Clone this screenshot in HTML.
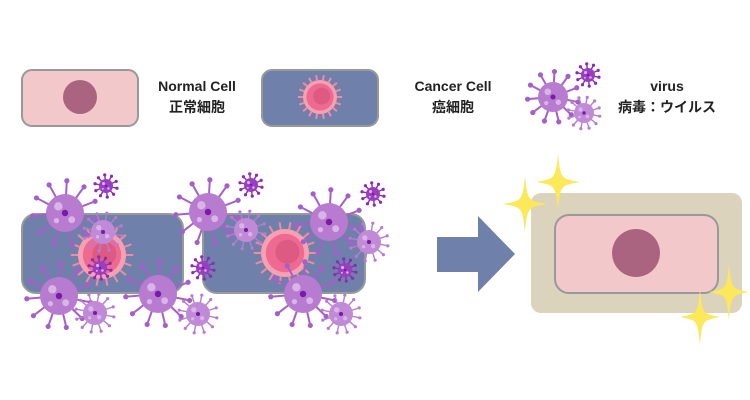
<!DOCTYPE html>
<html><head><meta charset="utf-8"><style>
body{margin:0;background:#fff;width:750px;height:400px;overflow:hidden}
svg{display:block}
text{font-family:"Liberation Sans","Noto Sans CJK JP",sans-serif;font-weight:bold;font-size:14px;fill:#222}
</style></head><body>
<svg id="s" width="750" height="400" viewBox="0 0 750 400" xmlns="http://www.w3.org/2000/svg">
<defs>
<path id="sp" d="M0,-1 C0.12,-0.12 0.12,-0.12 1,0 C0.12,0.12 0.12,0.12 0,1 C-0.12,0.12 -0.12,0.12 -1,0 C-0.12,-0.12 -0.12,-0.12 0,-1Z" fill="#fbe95a"/>
</defs>
<rect x="22" y="70" width="116" height="56" rx="10" fill="#f3c8ca" stroke="#999" stroke-width="2"/>
<circle cx="80" cy="97" r="17" fill="#aa6480"/>
<text x="197" y="91" text-anchor="middle">Normal Cell</text>
<text x="197" y="112" text-anchor="middle">正常細胞</text>
<rect x="262" y="70" width="116" height="56" rx="10" fill="#6f80aa" stroke="#999" stroke-width="2"/>
<g id="cancerLegend"></g>
<text x="453" y="91" text-anchor="middle">Cancer Cell</text>
<text x="453" y="112" text-anchor="middle">癌細胞</text>
<text x="667" y="91" text-anchor="middle">virus</text>
<text x="667" y="112" text-anchor="middle">病毒：ウイルス</text>
<rect x="22" y="214" width="161" height="79" rx="14" fill="#6f80aa" stroke="#999" stroke-width="2"/>
<rect x="203" y="214" width="162" height="79" rx="14" fill="#6f80aa" stroke="#999" stroke-width="2"/>
<g id="g1"></g>
<polygon points="437,237 478,237 478,216 515,254 478,292 478,272 437,272" fill="#6f80aa"/>
<rect x="531" y="193" width="211" height="120" rx="10" fill="#dbd3bb"/>
<rect x="555" y="215" width="163" height="78" rx="14" fill="#f3c8ca" stroke="#999" stroke-width="2"/>
<circle cx="636" cy="253" r="24" fill="#aa6480"/>
<use href="#sp" transform="translate(558,182) scale(22,28)"/>
<use href="#sp" transform="translate(525,204) scale(22,28)"/>
<use href="#sp" transform="translate(729,292) scale(20,28)"/>
<use href="#sp" transform="translate(700,317) scale(20,28)"/>
</svg>
<script>
const NS="http://www.w3.org/2000/svg";
function el(p,t,a){const e=document.createElementNS(NS,t);for(const k in a)e.setAttribute(k,a[k]);p.appendChild(e);return e;}
function cancer(p,x,y,r){
  const n=18;
  for(let i=0;i<n;i++){const a=i/n*2*Math.PI;
    el(p,'line',{x1:x+Math.cos(a)*r,y1:y+Math.sin(a)*r,x2:x+Math.cos(a)*(r*1.3),y2:y+Math.sin(a)*(r*1.3),stroke:'#f28aa4','stroke-width':2});}
  el(p,'circle',{cx:x,cy:y,r:r,fill:'#f7a0b4'});
  el(p,'circle',{cx:x,cy:y,r:r*0.8,fill:'#ef6a90'});
  el(p,'circle',{cx:x+r*0.1,cy:y-r*0.05,r:r*0.5,fill:'#dd5a82'});
}
function virus(p,x,y,r,type){
  const body={big:'#b77cd0',mid:'#c08ad6',dark:'#9a3ec0'}[type];
  const spk={big:'#a460c8',mid:'#b77cd0',dark:'#8a2cb4'}[type];
  const n=type==='big'?11:(type==='mid'?12:10), L=type==='big'?1.7:1.6;
  for(let i=0;i<n;i++){const a=i/n*2*Math.PI+0.2;
    const ex=x+Math.cos(a)*r*L, ey=y+Math.sin(a)*r*L;
    el(p,'line',{x1:x,y1:y,x2:ex,y2:ey,stroke:spk,'stroke-width':type==='big'?2:1.4});
    el(p,'circle',{cx:ex,cy:ey,r:type==='big'?2.6:1.6,fill:spk});}
  el(p,'circle',{cx:x,cy:y,r:r,fill:body});
  el(p,'circle',{cx:x-r*0.35,cy:y-r*0.35,r:r*0.22,fill:'#d9b4e6'});
  el(p,'circle',{cx:x+r*0.35,cy:y+r*0.35,r:r*0.18,fill:'#d9b4e6'});
  el(p,'circle',{cx:x-r*0.45,cy:y+r*0.4,r:r*0.14,fill:'#d9b4e6'});
  el(p,'circle',{cx:x,cy:y,r:r*0.17,fill:'#7a1aa8'});
}
const s=document.getElementById('s');
cancer(document.getElementById('cancerLegend'),320,97,17);
const g=document.getElementById('g1');
cancer(g,102,255,24);cancer(g,285,253,24);
[[65,213],[208,212],[59,296],[158,294],[329,222],[303,294]].forEach(v=>virus(g,v[0],v[1],19,'big'));
[[103,232],[246,230],[95,313],[198,314],[369,242],[341,314]].forEach(v=>virus(g,v[0],v[1],12,'mid'));
[[106,186],[251,185],[100,268],[203,268],[345,270],[373,194]].forEach(v=>virus(g,v[0],v[1],7,'dark'));
const lg=el(s,'g',{});
virus(lg,553,97,15,'big');virus(lg,588,75,7,'dark');virus(lg,584,113,10,'mid');
</script>
</body></html>
